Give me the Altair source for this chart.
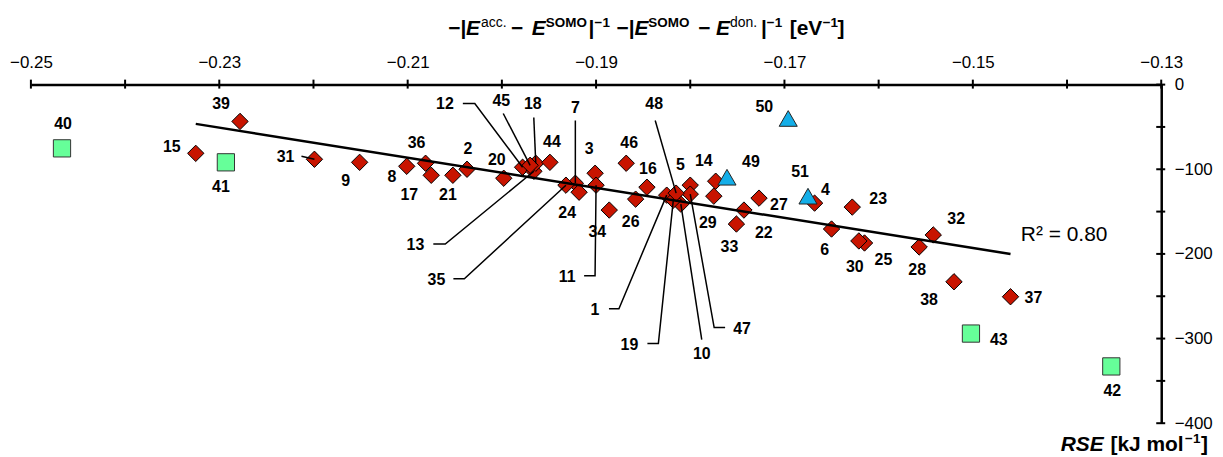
import altair as alt
import pandas as pd

# ---------------- data ----------------
ids = list(range(1, 52))
x_vals = [-0.1825, -0.2037, -0.1901, -0.1668, -0.1800, -0.1650, -0.1922, -0.2101, -0.2151, -0.1810,
          -0.1900, -0.1978, -0.1966, -0.1773, -0.2325, -0.1846, -0.2075, -0.1964, -0.1818, -0.1998,
          -0.2052, -0.1743, -0.1628, -0.1918, -0.1615, -0.1858, -0.1727, -0.1557, -0.1775, -0.1621,
          -0.2199, -0.1542, -0.1751, -0.1886, -0.1932, -0.2081, -0.1460, -0.1520, -0.2278, -0.2467,
          -0.2293, -0.1353, -0.1502, -0.1949, -0.1970, -0.1868, -0.1800, -0.1815, -0.1761, -0.1696,
          -0.1675]
y_vals = [-130.6, -100.0, -104.7, -140.0, -118.8, -170.6, -116.5, -96.5, -91.8, -141.2,
          -118.8, -97.6, -102.4, -114.1, -81.2, -121.2, -107.1, -92.9, -136.5, -110.6,
          -107.1, -148.2, -144.7, -127.1, -187.1, -135.3, -134.1, -191.8, -131.8, -184.7,
          -88.2, -177.6, -164.7, -148.2, -118.8, -92.9, -250.6, -232.9, -43.5, -75.3,
          -91.8, -332.9, -294.1, -91.8, -95.3, -92.9, -129.4, -128.2, -109.4, -40.0,
          -131.8]
square_ids = [40, 41, 42, 43]
triangle_ids = [49, 50, 51]
x_label_values = [-0.25, -0.23, -0.21, -0.19, -0.17, -0.15, -0.13]
x_tick_values = [-0.25, -0.24, -0.23, -0.22, -0.21, -0.20, -0.19, -0.18, -0.17, -0.16, -0.15, -0.14, -0.13]
y_label_values = [0, -100, -200, -300, -400]
y_tick_values = [0, -50, -100, -150, -200, -250, -300, -350, -400]
r2_text = "R\u00b2 = 0.80"

# ---------------- layout (pixels) ----------------
W, H = 1135, 340
X0, Y0 = 31, 84                      # page position of plot origin
XS = 0.12 / W                        # data units per px
YS = 400.0 / H
FONT = "Liberation Sans"
RED, GREEN, BLUE = "#C81400", "#66FF99", "#14AEE8"

# label offsets (px from point centre)
label_off = {
    2: (1, -20), 3: (-6, -24), 4: (11, -13), 5: (-10, -20), 6: (-7, 21), 8: (-15, 11), 9: (-14, 19),
    14: (-12, -20), 15: (-24, -6), 16: (1, -18), 17: (-22, 20), 20: (-7, -18), 21: (-5, 20),
    22: (20, 23), 23: (26, -8), 24: (-12, 21), 25: (19, 17), 26: (-5, 23), 27: (20, 7), 28: (-2, 23),
    29: (-6, 27), 30: (-4, 26), 32: (23, -16), 33: (-7, 23), 34: (-12, 22), 36: (-9, -20), 37: (23, 1),
    38: (-25, 18), 39: (-19, -17), 40: (1, -24), 41: (-5, 25), 42: (1, 25), 43: (28, 6), 44: (2, -20),
    46: (3, -20), 49: (24, -15), 50: (-24, -12), 51: (-8, -24),
    1: (-72, 115), 7: (0, -76), 10: (21, 151), 11: (-29, 92), 12: (-78, -63), 13: (-119, 74),
    18: (-3, -59), 19: (-44, 145), 31: (-29, -2), 35: (-130, 95), 45: (-29, -65), 47: (52, 135),
    48: (-22, -89),
}
# leader line paths (px offsets from point centre, ending at the point)
leaders = {
    1: [(-58, 114), (-48, 114), (0, 0)],
    7: [(0, -63), (0, 0)],
    10: [(21, 136), (0, 0)],
    11: [(-12, 91), (-1, 91), (0, 0)],
    12: [(-60, -64), (-48, -64), (0, 0)],
    13: [(-101, 73), (-89, 73), (0, 0)],
    18: [(-2, -46), (0, 0)],
    19: [(-26, 144), (-15, 144), (0, 0)],
    31: [(-13, -3), (0, 0)],
    35: [(-113, 94), (-102, 94), (0, 0)],
    45: [(-27, -52), (0, 0)],
    47: [(35, 134), (24, 134), (0, 0)],
    48: [(-21, -73), (0, 0)],
}
# axis-title segments: (text, page x, page baseline y, style)
title_segments = [
    ("\u2212|", 450, 34, "b"), ("E", 468, 34, "bi"), ("acc.", 483, 26, "sr"), ("\u2212", 513, 34, "b"),
    ("E", 534, 34, "bi"), ("SOMO", 548, 26, "sb"), ("|", 591, 34, "b"), ("\u22121", 597, 26, "sb"),
    ("\u2212|", 619, 34, "b"), ("E", 637, 34, "bi"), ("SOMO", 651, 26, "sb"), ("\u2212", 701, 34, "b"),
    ("E", 719, 34, "bi"), ("don.", 733, 26, "sr"), ("|", 764, 34, "b"), ("\u22121", 770, 26, "sb"),
    ("[eV", 793, 34, "b"), ("\u22121", 826, 26, "sb"), ("]", 841, 34, "b"),
    ("RSE", 1065, 452, "bi"), ("[kJ mol", 1115, 452, "b"), ("\u22121", 1190, 444, "sb"), ("]", 1206, 452, "b"),
]
r2_pos = (1025, 241)


def px_to_x(px):
    return -0.25 + (px - X0) * XS


def py_to_y(py):
    return -(py - Y0) * YS


# ---------------- tables ----------------
grp = ["square" if i in square_ids else "triangle" if i in triangle_ids else "diamond" for i in ids]
pts = pd.DataFrame({"id": ids, "x": x_vals, "y": y_vals, "grp": grp})
pts["lx"] = [x + label_off[i][0] * XS for i, x in zip(ids, x_vals)]
pts["ly"] = [y - label_off[i][1] * YS for i, y in zip(ids, y_vals)]
pts["label"] = [str(i) for i in ids]

lead_rows = []
for i, path in leaders.items():
    x, y = x_vals[i - 1], y_vals[i - 1]
    for k, (dx, dy) in enumerate(path):
        lead_rows.append({"id": i, "o": k, "x": x + dx * XS, "y": y - dy * YS})
lead_df = pd.DataFrame(lead_rows)

seg_df = pd.DataFrame([{"t": t, "x": px_to_x(px), "y": py_to_y(py), "s": s} for t, px, py, s in title_segments])

xscale = alt.Scale(domain=[-0.25, -0.13], nice=False, zero=False)
yscale = alt.Scale(domain=[-400, 0], nice=False, zero=False)
xaxis = alt.Axis(orient="top", values=x_label_values, format=".2f", ticks=False, grid=False,
                 domainColor="black", domainWidth=2.5, labelFont=FONT, labelFontSize=17,
                 labelColor="black", labelPadding=13, labelFlush=False, labelOverlap=False, title=None)
yaxis = alt.Axis(orient="right", values=y_label_values, format="d", ticks=False, grid=False,
                 domainColor="black", domainWidth=2.5, labelFont=FONT, labelFontSize=17,
                 labelColor="black", labelPadding=13, labelFlush=False, labelOverlap=False, title=None)


def X(field="x"):
    return alt.X(f"{field}:Q", scale=xscale, axis=xaxis)


def Y(field="y"):
    return alt.Y(f"{field}:Q", scale=yscale, axis=yaxis)


diamonds = alt.Chart(pts).transform_filter(alt.datum.grp == "diamond").mark_point(
    shape="diamond", filled=True, fill=RED, stroke="black", strokeWidth=1, size=270, opacity=1
).encode(x=X(), y=Y())
squares = alt.Chart(pts).transform_filter(alt.datum.grp == "square").mark_point(
    shape="square", filled=True, fill=GREEN, stroke="#333333", strokeWidth=1, size=300, opacity=1
).encode(x=X(), y=Y())
triangles = alt.Chart(pts).transform_filter(alt.datum.grp == "triangle").mark_point(
    shape="triangle-up", filled=True, fill=BLUE, stroke="#222222", strokeWidth=1, size=330, opacity=1
).encode(x=X(), y=Y())

reg = alt.Chart(pts).transform_filter(alt.datum.grp == "diamond").transform_regression(
    "x", "y"
).mark_line(color="black", strokeWidth=2.5).encode(x=X(), y=Y())

lead = alt.Chart(lead_df).mark_line(color="black", strokeWidth=1.5).encode(
    x=X(), y=Y(), detail="id:N", order="o:Q")

labels = alt.Chart(pts).mark_text(font=FONT, fontSize=16, fontWeight="bold", color="black",
                                  baseline="middle", align="center").encode(
    x=X("lx"), y=Y("ly"), text="label:N")

xt = alt.Chart(pd.DataFrame({"v": x_tick_values})).mark_rule(color="black", strokeWidth=2).encode(
    x=X("v"), y=alt.value(-5), y2=alt.value(4))
yt = alt.Chart(pd.DataFrame({"v": y_tick_values})).mark_rule(color="black", strokeWidth=2).encode(
    y=Y("v"), x=alt.value(W - 5), x2=alt.value(W + 4))

styles = {"b": (21, "bold", "normal"), "bi": (21, "bold", "italic"),
          "sb": (13.5, "bold", "normal"), "sr": (14, "normal", "normal")}
seg_layers = []
for key, (fs, fw, fst) in styles.items():
    seg_layers.append(
        alt.Chart(seg_df[seg_df.s == key]).mark_text(
            font=FONT, fontSize=fs, fontWeight=fw, fontStyle=fst, align="left",
            baseline="alphabetic", color="black").encode(x=X(), y=Y(), text="t:N"))

r2 = alt.Chart(pd.DataFrame({"t": [r2_text], "x": [px_to_x(r2_pos[0])], "y": [py_to_y(r2_pos[1])]})).mark_text(
    font=FONT, fontSize=21, align="left", baseline="alphabetic", color="black").encode(
    x=X(), y=Y(), text="t:N")

chart = alt.layer(squares, diamonds, triangles, reg, lead, labels, xt, yt, r2, *seg_layers).properties(
    width=W, height=H,
    autosize=alt.AutoSizeParams(type="none"),
    padding={"left": 23, "top": 76, "right": 54, "bottom": 33},
).configure_view(stroke=None)

chart.save("out.html", embed_options={"renderer": "svg", "actions": False})
